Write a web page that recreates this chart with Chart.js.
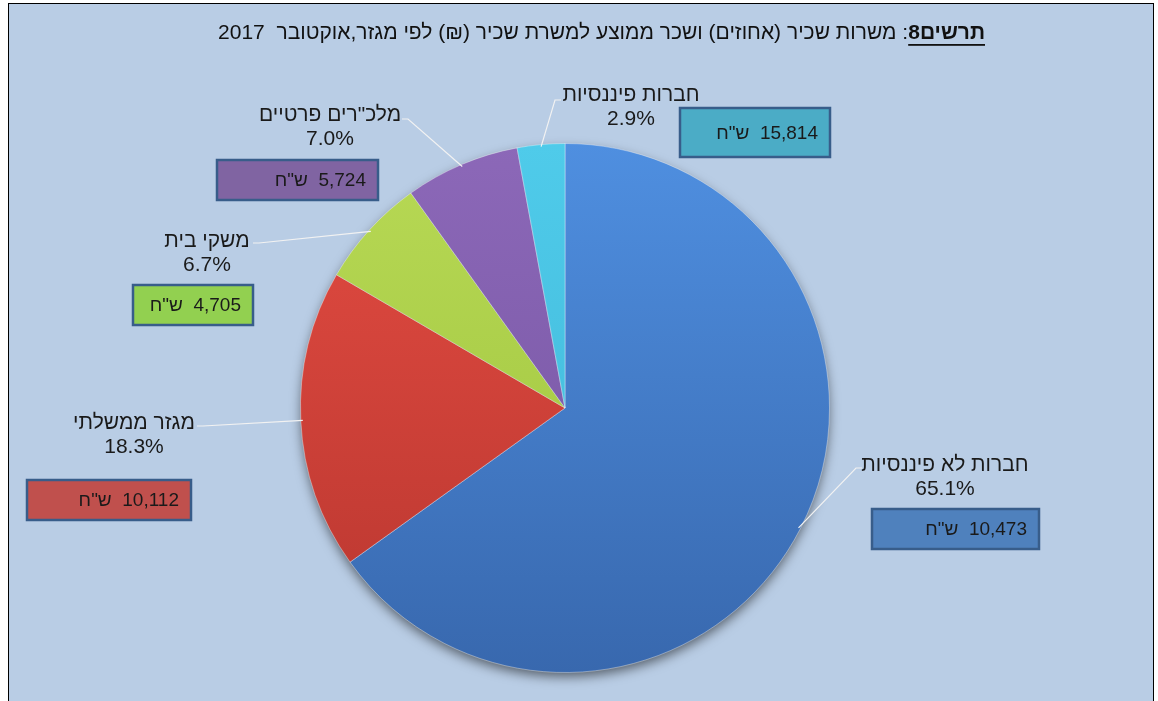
<!DOCTYPE html>
<html>
<head>
<meta charset="utf-8">
<script src="https://cdn.jsdelivr.net/npm/chart.js@4/dist/chart.umd.min.js"></script>
<style>
body { margin: 0; background: #ffffff; }
#marco { position: absolute; left: 8px; top: 3px; width: 1144px; height: 720px; border: 1px solid #000; background: #b9cde5; }
#myChart { position: absolute; left: 0; top: 0; }
</style>
</head>
<body>
<div id="marco"></div>
<canvas id="myChart" width="1158" height="701"></canvas>
<script>
// datos del grafico
var sectores = ['חברות לא פיננסיות', 'מגזר ממשלתי', 'משקי בית', 'מלכ"רים פרטיים', 'חברות פיננסיות'];
var porcentajes = [65.1, 18.3, 6.7, 7.0, 2.9];
var salarios = [10473, 10112, 4705, 5724, 15814];

// colores: claro (arriba), oscuro (abajo), caja
var coloresClaros = ['#4f8fe0', '#e44c42', '#b8d955', '#8c68b8', '#4fcbea'];
var coloresOscuros = ['#3868ae', '#b8362f', '#9cc23c', '#7353a0', '#3fb5d6'];
var coloresCaja = ['#4f81bd', '#c0504d', '#92d050', '#8064a2', '#4bacc6'];

// posicion de etiquetas (centro del texto) y caja de salario
var posEtiquetas = [
  { x: 945, y: 465, lx: 862, ly: 468, caja: [872, 509, 167, 40] },
  { x: 134, y: 423, lx: 197, ly: 426, caja: [27, 480, 164, 40] },
  { x: 207, y: 241, lx: 253, ly: 243, caja: [133, 285, 120, 40] },
  { x: 330, y: 115, lx: 402, ly: 119, caja: [217, 160, 161, 40] },
  { x: 631, y: 95, lx: 561, ly: 100, caja: [680, 108, 150, 49] }
];

var fuente = '"Liberation Sans", Arial, sans-serif';

function formatear(n) {
  return n.toString().replace(/\B(?=(\d{3})+(?!\d))/g, ',');
}

function colorSlice(context) {
  var chart = context.chart;
  var area = chart.chartArea;
  if (!area) return coloresClaros[context.dataIndex];
  var g = chart.ctx.createLinearGradient(0, area.top, 0, area.bottom);
  g.addColorStop(0, coloresClaros[context.dataIndex]);
  g.addColorStop(1, coloresOscuros[context.dataIndex]);
  return g;
}

var titulo = {
  id: 'titulo',
  afterDraw: function (chart) {
    var ctx = chart.ctx;
    ctx.save();
    ctx.direction = 'rtl';
    ctx.textAlign = 'right';
    ctx.textBaseline = 'middle';
    ctx.fillStyle = '#111111';
    var xd = 985, y = 33;
    ctx.font = 'bold 21px ' + fuente;
    var t1 = 'תרשים8';
    ctx.fillText(t1, xd, y);
    var w = ctx.measureText(t1).width;
    ctx.fillRect(xd - w, y + 11, w, 1.8);
    ctx.font = '21px ' + fuente;
    ctx.fillText(': משרות שכיר (אחוזים) ושכר ממוצע למשרת שכיר (₪) לפי מגזר,אוקטובר  2017', xd - w, y);
    ctx.restore();
  }
};

var etiquetas = {
  id: 'etiquetas',
  beforeDatasetsDraw: function (chart) {
    var arc = chart.getDatasetMeta(0).data[0];
    if (!arc) return;
    var p = arc.getProps(['x', 'y', 'outerRadius']);
    var ctx = chart.ctx;
    ctx.save();
    ctx.shadowColor = 'rgba(0,0,0,0.55)';
    ctx.shadowBlur = 12;
    ctx.shadowOffsetY = 5;
    ctx.fillStyle = '#3a68ad';
    ctx.beginPath();
    ctx.arc(p.x, p.y, p.outerRadius - 1, 0, Math.PI * 2);
    ctx.fill();
    ctx.restore();
  },
  afterDatasetsDraw: function (chart) {
    var ctx = chart.ctx;
    var arcs = chart.getDatasetMeta(0).data;
    arcs.forEach(function (arc, i) {
      var p = arc.getProps(['x', 'y', 'startAngle', 'endAngle', 'outerRadius']);
      var medio = (p.startAngle + p.endAngle) / 2;
      var ex = p.x + Math.cos(medio) * (p.outerRadius - 2);
      var ey = p.y + Math.sin(medio) * (p.outerRadius - 2);
      var pos = posEtiquetas[i];
      var dir = ex > pos.lx ? 1 : -1;

      // linea guia
      ctx.save();
      ctx.strokeStyle = '#f2f2f2';
      ctx.lineWidth = 1.2;
      ctx.beginPath();
      ctx.moveTo(pos.lx, pos.ly);
      ctx.lineTo(pos.lx + dir * 6, pos.ly);
      ctx.lineTo(ex, ey);
      ctx.stroke();

      // texto
      ctx.direction = 'rtl';
      ctx.textAlign = 'center';
      ctx.textBaseline = 'middle';
      ctx.fillStyle = '#1a1a1a';
      ctx.font = '21px ' + fuente;
      ctx.fillText(sectores[i], pos.x, pos.y);
      ctx.fillText(porcentajes[i].toFixed(1) + '%', pos.x, pos.y + 24);

      // caja salario
      var c = pos.caja;
      ctx.fillStyle = coloresCaja[i];
      ctx.fillRect(c[0], c[1], c[2], c[3]);
      ctx.strokeStyle = '#385d8a';
      ctx.lineWidth = 2.5;
      ctx.strokeRect(c[0], c[1], c[2], c[3]);
      ctx.fillStyle = '#1a1a1a';
      ctx.font = '19px ' + fuente;
      ctx.textAlign = 'right';
      ctx.fillText(formatear(salarios[i]) + '  ש"ח', c[0] + c[2] - 12, c[1] + c[3] / 2 + 1);
      ctx.restore();
    });
  }
};

var grafica = new Chart(document.getElementById('myChart').getContext('2d'), {
  type: 'pie',
  data: {
    labels: sectores,
    datasets: [{
      data: porcentajes,
      backgroundColor: colorSlice,
      borderColor: 'rgba(255,255,255,0.35)',
      borderWidth: 1
    }]
  },
  options: {
    responsive: false,
    animation: false,
    layout: { padding: { top: 143, bottom: 28, left: 200, right: 228 } },
    plugins: {
      legend: { display: false },
      title: { display: false },
      tooltip: { enabled: false }
    }
  },
  plugins: [etiquetas, titulo]
});
</script>
</body>
</html>
